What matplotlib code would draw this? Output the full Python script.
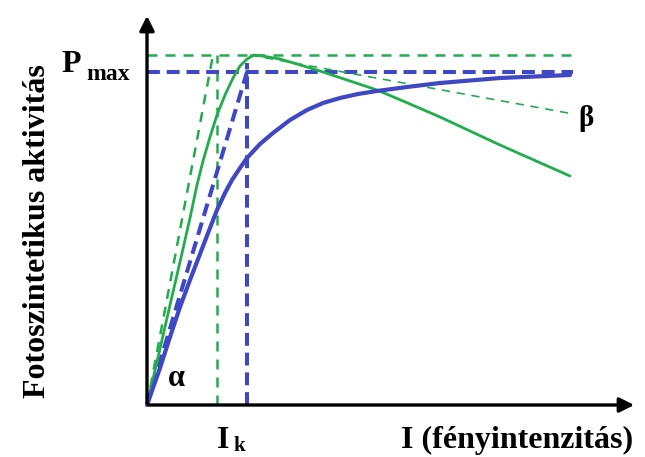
import matplotlib.pyplot as plt

# curves (x: light intensity, y: photosynthetic activity)
blue_x = [0, 13, 23, 33, 43, 53, 63, 70, 78, 85, 93, 100, 113, 126, 143, 160,
          176, 193, 211, 230, 260, 293, 353, 423]
blue_y = [0, 37, 68, 98, 125, 151, 177, 195, 212, 225, 237, 247, 261, 272, 285, 295,
          302, 307, 311, 314, 318, 322, 327, 330]

green_x = [0, 12, 23, 33, 43, 50, 56, 63, 70, 78, 86, 93, 100, 107, 115, 133,
           160, 176, 203, 230, 263, 293, 353, 423]
green_y = [0, 52, 100, 143, 187, 220, 244, 268, 290, 310, 327, 339, 346, 350, 349, 346,
           338, 333, 324, 315, 301, 288, 260, 229]

# beta line (photoinhibition slope)
beta_x = [103, 421]
beta_y = [350, 292]

# saturation levels and I_k values
pmax_green, pmax_blue = 350, 333
ik_green, ik_blue = 70, 100
x_end = 426

blue = '#3f47c4'
green = '#22ad4c'
font = 'Liberation Serif'

fig = plt.figure(figsize=(6.45, 4.57), dpi=100)
ax = fig.add_axes([0, 0, 1, 1])
ax.set_xlim(-147, 498)
ax.set_ylim(-52, 405)
ax.axis('off')

# axes with arrows
ax.annotate('', xy=(0, 392), xytext=(0, -1),
            arrowprops=dict(arrowstyle='-|>', lw=2.4, color='black', mutation_scale=22))
ax.annotate('', xy=(490, 0), xytext=(-1, 0),
            arrowprops=dict(arrowstyle='-|>', lw=2.4, color='black', mutation_scale=22))

# green dashed guides
gd = dict(color=green, lw=1.8, dashes=(4, 3.2))
ax.plot([0, x_end], [pmax_green, pmax_green], **gd)
ax.plot([ik_green, ik_green], [0, pmax_green], **gd)
ax.plot([0, 66], [0, pmax_green], **gd)

# blue dashed guides
bd = dict(color=blue, lw=2.9, dashes=(3.2, 1.7))
ax.plot([0, x_end], [pmax_blue, pmax_blue], **bd)
ax.plot([ik_blue, ik_blue], [0, 342], **bd)
ax.plot([0, ik_blue], [0, pmax_blue], **bd)

# curves
ax.plot(beta_x, beta_y, color=green, lw=1.2, dashes=(5, 4))
ax.plot(green_x, green_y, color=green, lw=2.0, solid_capstyle='round', solid_joinstyle='round')
ax.plot(blue_x, blue_y, color=blue, lw=3.0, solid_capstyle='round', solid_joinstyle='round')

# labels
ax.text(-109, 174, 'Fotoszintetikus aktivitás', rotation=90, ha='center', va='center',
        family=font, weight='bold', fontsize=23)
ax.text(370, -35, 'I (fényintenzitás)', ha='center', va='center',
        family=font, weight='bold', fontsize=23)
ax.text(70, -36, 'I', ha='left', va='center', family=font, weight='bold', fontsize=23)
ax.text(86, -41, 'k', ha='left', va='center', family=font, weight='bold', fontsize=15)
ax.text(-86, 340, 'P', ha='left', va='center', family=font, weight='bold', fontsize=23)
ax.text(-61, 330, 'max', ha='left', va='center', family=font, weight='bold', fontsize=17)
ax.text(29, 26, 'α', ha='center', va='center', family=font, weight='bold', fontsize=22)
ax.text(439, 286, 'β', ha='center', va='center', family=font, weight='bold', fontsize=21)

fig.savefig('out.png', dpi=100)
